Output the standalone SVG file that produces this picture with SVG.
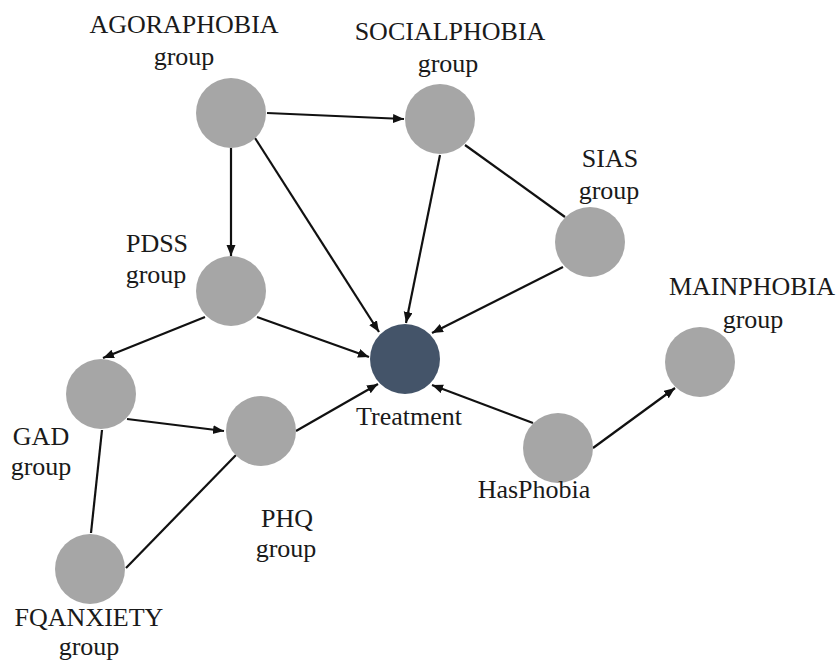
<svg xmlns="http://www.w3.org/2000/svg" width="838" height="663" viewBox="0 0 838 663">
<style>
.n{fill:#a6a6a6}
.t{fill:#445469}
.lb{font-family:'Liberation Serif','DejaVu Serif',serif;font-size:26px;fill:#1a1a1a;text-anchor:middle}
.e{stroke:#111;stroke-width:2.2;fill:none}
.a{marker-end:url(#ah)}
</style>
<defs>
<marker id="ah" markerUnits="userSpaceOnUse" markerWidth="12" markerHeight="10" refX="11" refY="4.5" orient="auto">
<path d="M0,0 L11,4.5 L0,9 z" fill="#111"/>
</marker>
</defs>
<rect width="838" height="663" fill="#fff"/>
<g id="connectors">
<line class="e a" x1="267" y1="113" x2="404" y2="119"/>
<line class="e a" x1="231" y1="148" x2="231" y2="256"/>
<line class="e a" x1="255" y1="138" x2="379" y2="332"/>
<line class="e a" x1="440" y1="155" x2="406" y2="323"/>
<line class="e" x1="465" y1="145" x2="565" y2="217"/>
<line class="e a" x1="563" y1="267" x2="432" y2="333"/>
<line class="e a" x1="257" y1="317" x2="369" y2="357"/>
<line class="e a" x1="205" y1="317" x2="103" y2="358"/>
<line class="e a" x1="127" y1="419" x2="224" y2="431"/>
<line class="e" x1="102" y1="430" x2="91" y2="533"/>
<line class="e" x1="126" y1="568" x2="236" y2="455"/>
<line class="e a" x1="296" y1="431" x2="378" y2="384"/>
<line class="e a" x1="533" y1="423" x2="432" y2="385"/>
<line class="e a" x1="593" y1="448" x2="675" y2="388"/>
</g>
<g id="agoraphobia"><circle class="n" cx="231" cy="113" r="35"/><text class="lb" font-family="Liberation Serif, serif" x="184" y="33">AGORAPHOBIA</text><text class="lb" font-family="Liberation Serif, serif" x="184" y="65">group</text></g>
<g id="socialphobia"><circle class="n" cx="440" cy="119" r="35"/><text class="lb" font-family="Liberation Serif, serif" x="450" y="40">SOCIALPHOBIA</text><text class="lb" font-family="Liberation Serif, serif" x="448" y="72">group</text></g>
<g id="sias"><circle class="n" cx="590" cy="242" r="35"/><text class="lb" font-family="Liberation Serif, serif" x="610" y="167">SIAS</text><text class="lb" font-family="Liberation Serif, serif" x="609" y="199">group</text></g>
<g id="pdss"><circle class="n" cx="231" cy="291" r="35"/><text class="lb" font-family="Liberation Serif, serif" x="157" y="252">PDSS</text><text class="lb" font-family="Liberation Serif, serif" x="156" y="283">group</text></g>
<g id="treatment"><circle class="t" cx="405" cy="359" r="35"/><text class="lb" font-family="Liberation Serif, serif" x="409" y="425">Treatment</text></g>
<g id="mainphobia"><circle class="n" cx="700" cy="362" r="35"/><text class="lb" font-family="Liberation Serif, serif" x="752" y="295">MAINPHOBIA</text><text class="lb" font-family="Liberation Serif, serif" x="753" y="328">group</text></g>
<g id="gad"><circle class="n" cx="101" cy="394" r="35"/><text class="lb" font-family="Liberation Serif, serif" x="41" y="445">GAD</text><text class="lb" font-family="Liberation Serif, serif" x="41" y="475">group</text></g>
<g id="phq"><circle class="n" cx="261" cy="431" r="35"/><text class="lb" font-family="Liberation Serif, serif" x="287" y="527">PHQ</text><text class="lb" font-family="Liberation Serif, serif" x="286" y="557">group</text></g>
<g id="hasphobia"><circle class="n" cx="558" cy="448" r="35"/><text class="lb" font-family="Liberation Serif, serif" x="534" y="498">HasPhobia</text></g>
<g id="fqanxiety"><circle class="n" cx="90" cy="569" r="35"/><text class="lb" font-family="Liberation Serif, serif" x="89" y="626">FQANXIETY</text><text class="lb" font-family="Liberation Serif, serif" x="89" y="655">group</text></g>
</svg>
